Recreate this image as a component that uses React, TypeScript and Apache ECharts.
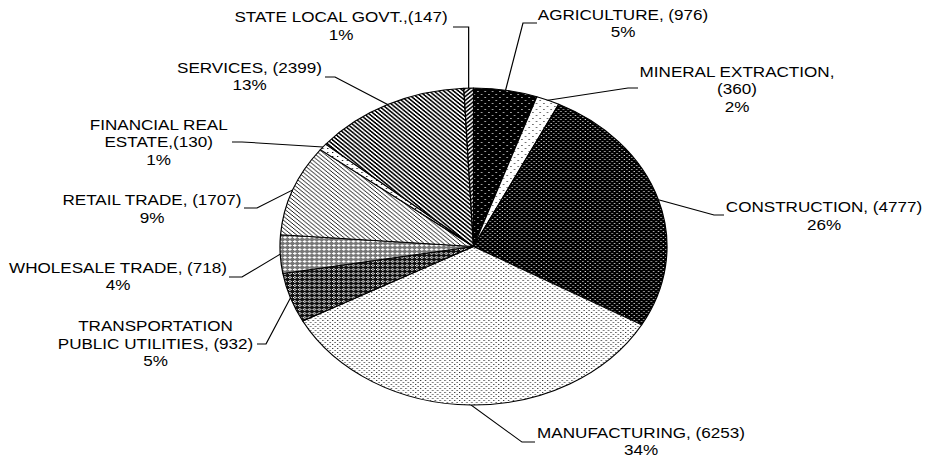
import React, { useEffect, useRef } from "react";
import * as echarts from "echarts";

// ---- data ----
const categories = [
  "AGRICULTURE",
  "MINERAL EXTRACTION",
  "CONSTRUCTION",
  "MANUFACTURING",
  "TRANSPORTATION\nPUBLIC UTILITIES",
  "WHOLESALE TRADE",
  "RETAIL TRADE",
  "FINANCIAL REAL\nESTATE",
  "SERVICES",
  "STATE LOCAL GOVT.",
];
const values = [976, 360, 4777, 6253, 932, 718, 1707, 130, 2399, 147];
// text placed between "NAME," and "(value)"
const separators = [" ", "\n", " ", " ", " ", " ", " ", "", " ", ""];

// ---- layout (final page pixels) ----
const W = 925;
const H = 457;
const STRETCH = 1.2208; // the whole picture is stretched horizontally
const W0 = W / STRETCH;
const PIE_CX = 473.5;
const PIE_CY = 246.5;
const PIE_R = 158.5;

// label block centres [x, y]
const labelCenters: number[][] = [
  [623, 23.5],
  [737, 89.5],
  [824, 216],
  [641, 441.5],
  [155.5, 344],
  [118, 276.5],
  [152, 209],
  [158.7, 142.5],
  [249.5, 76.5],
  [341, 26],
];
// leader line bend point and end point next to the label ([null, y] = vertical above the anchor)
const leaderBends: (number | null)[][][] = [
  [[523, 23], [537, 23]],
  [[628, 88], [638, 88]],
  [[714, 215], [724, 215]],
  [[522, 442], [535, 442]],
  [[266, 344], [257, 344]],
  [[242, 277], [229, 277]],
  [[257, 208], [244, 208]],
  [[242, 142], [232, 142]],
  [[335, 77], [325, 77]],
  [[null, 27], [453, 27]],
];

function tile(w: number, h: number, painter: (x: number, y: number) => string) {
  const c = document.createElement("canvas");
  c.width = w;
  c.height = h;
  const ctx = c.getContext("2d")!;
  for (let y = 0; y < h; y++) {
    for (let x = 0; x < w; x++) {
      ctx.fillStyle = painter(x, y);
      ctx.fillRect(x, y, 1, 1);
    }
  }
  return { image: c.toDataURL(), repeat: "repeat", imageWidth: w, imageHeight: h } as any;
}

function makePatterns() {
  const B = "#000";
  const Wh = "#fff";
  return [
    // agriculture: black, sparse white dots
    tile(6, 6, (x, y) => ((x === 1 && y === 1) || (x === 4 && y === 4) ? Wh : B)),
    // mineral extraction: white, sparse black dots
    tile(6, 6, (x, y) => ((x === 1 && y === 1) || (x === 4 && y === 4) ? "#222" : Wh)),
    // construction: black, dense white dots
    tile(4, 4, (x, y) => ((x === 1 && y === 1) || (x === 3 && y === 3) ? "#ddd" : B)),
    // manufacturing: white, dense dark dots
    tile(4, 4, (x, y) => ((x === 0 && y === 0) || (x === 2 && y === 2) ? "#333" : Wh)),
    // transportation: dark with white crosses
    tile(4, 4, (x, y) =>
      (x === 1 && y === 0) || (x === 0 && y === 1) || (x === 2 && y === 1) || (x === 1 && y === 2) ? Wh : "#111"
    ),
    // wholesale: grey with white crosses
    tile(4, 4, (x, y) =>
      (x === 1 && (y === 0 || y === 1 || y === 2)) || (y === 1 && (x === 0 || x === 2)) ? Wh : "#777"
    ),
    // retail: thin diagonal lines
    tile(4, 4, (x, y) => ((x - y + 4) % 4 === 0 ? "#222" : Wh)),
    // financial real estate: light dots
    tile(4, 4, (x, y) => (x === 0 && y === 0 ? "#000" : Wh)),
    // services: wide diagonal stripes
    tile(4, 4, (x, y) => ((x - y + 8) % 4 < 2 ? B : Wh)),
    // state local govt: wide opposite diagonal stripes
    tile(4, 4, (x, y) => ((x + y) % 4 < 2 ? B : Wh)),
  ];
}

export default function App() {
  const ref = useRef<HTMLDivElement>(null);

  useEffect(() => {
    document.body.style.margin = "0";
    document.body.style.overflow = "hidden";
    if (!ref.current) return;
    const chart = echarts.init(ref.current, undefined, { renderer: "svg", width: W0, height: H });
    const patterns = makePatterns();
    const total = values.reduce((a, b) => a + b, 0);

    const fallbackAnchor = (i: number) => {
      let before = 0;
      for (let k = 0; k < i; k++) before += values[k];
      const ang = ((before + values[i] / 2) / total) * Math.PI * 2;
      return [PIE_CX / STRETCH + PIE_R * Math.sin(ang), PIE_CY - PIE_R * Math.cos(ang)];
    };

    chart.setOption({
      animation: false,
      backgroundColor: "#fff",
      series: [
        {
          type: "pie",
          center: [PIE_CX / STRETCH, PIE_CY],
          radius: PIE_R,
          startAngle: 90,
          clockwise: true,
          avoidLabelOverlap: false,
          percentPrecision: 0,
          silent: true,
          itemStyle: { borderColor: "#000", borderWidth: 1 },
          emphasis: { disabled: true },
          label: {
            show: true,
            position: "outside",
            color: "#000",
            fontFamily: "'Liberation Sans', Arial, sans-serif",
            fontSize: 14,
            lineHeight: 17.5,
            align: "center",
            formatter: (p: any) =>
              `${p.name},${separators[p.dataIndex]}(${p.value})\n${p.percent}%`,
          },
          labelLine: {
            show: true,
            length: 10,
            length2: 10,
            lineStyle: { color: "#000", width: 1 },
          },
          labelLayout: (p: any) => {
            const i = p.dataIndex;
            const c = labelCenters[i];
            const anchor =
              p.labelLinePoints && p.labelLinePoints[0] ? p.labelLinePoints[0] : fallbackAnchor(i);
            const [bend, end] = leaderBends[i];
            const bx = bend[0] == null ? anchor[0] : (bend[0] as number) / STRETCH;
            return {
              x: c[0] / STRETCH,
              y: c[1],
              align: "center",
              verticalAlign: "middle",
              labelLinePoints: [
                [anchor[0], anchor[1]],
                [bx, bend[1] as number],
                [(end[0] as number) / STRETCH, end[1] as number],
              ],
            };
          },
          data: values.map((v, i) => ({
            value: v,
            name: categories[i],
            itemStyle: { color: patterns[i] },
          })),
        },
      ],
    });
    return () => chart.dispose();
  }, []);

  return (
    <div
      ref={ref}
      style={{
        position: "absolute",
        left: 0,
        top: 0,
        width: W0,
        height: H,
        transform: `scaleX(${STRETCH})`,
        transformOrigin: "0 0",
        background: "#fff",
      }}
    />
  );
}
